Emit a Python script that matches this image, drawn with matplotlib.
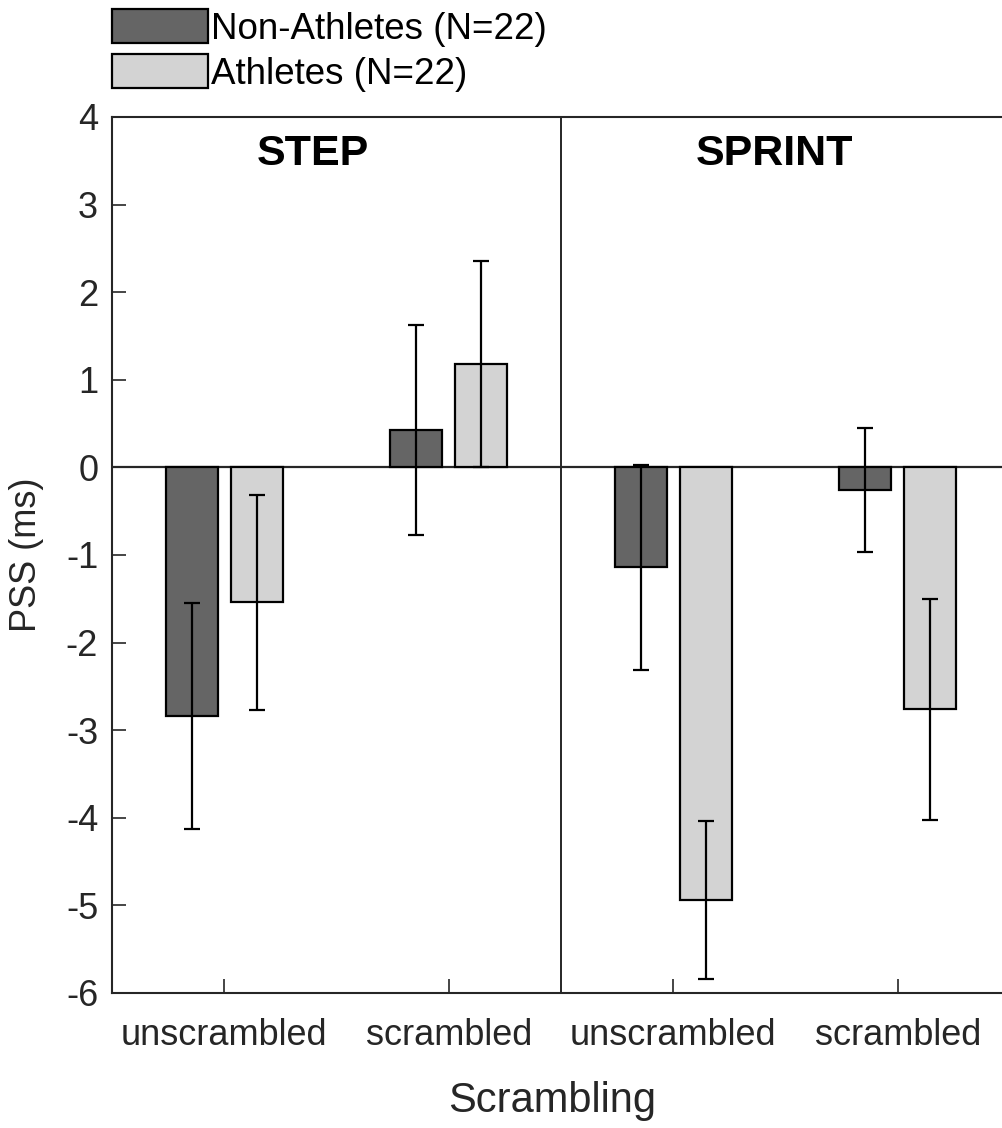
import matplotlib.pyplot as plt
import numpy as np

plt.rcParams['font.family'] = ['Liberation Sans', 'DejaVu Sans']
plt.rcParams['axes.unicode_minus'] = False

# data
conditions = ['unscrambled', 'scrambled', 'unscrambled', 'scrambled']
tasks = ['STEP', 'SPRINT']
non_athletes = [-2.84, 0.43, -1.14, -0.26]
non_athletes_err = [1.29, 1.20, 1.17, 0.71]
athletes = [-1.54, 1.18, -4.94, -2.76]
athletes_err = [1.23, 1.18, 0.90, 1.26]
group_labels = ['Non-Athletes (N=22)', 'Athletes (N=22)']

dark = '#656565'
light = '#d3d3d3'
spine_col = '#262626'

fig = plt.figure(figsize=(10.02, 11.28), dpi=100)
ax = fig.add_axes([0.1118, 0.1197, 0.8962, 0.7766])

x = np.arange(1, len(conditions) + 1)
w = 0.232
off = 0.144

b1 = ax.bar(x - off, non_athletes, w, color=dark, edgecolor='black', linewidth=1.6,
            label=group_labels[0], zorder=2)
b2 = ax.bar(x + off, athletes, w, color=light, edgecolor='black', linewidth=1.6,
            label=group_labels[1], zorder=2)
ax.errorbar(x - off, non_athletes, yerr=non_athletes_err, fmt='none', ecolor='black',
            elinewidth=1.6, capsize=6, capthick=1.6, zorder=3)
ax.errorbar(x + off, athletes, yerr=athletes_err, fmt='none', ecolor='black',
            elinewidth=1.6, capsize=6, capthick=1.6, zorder=3)

# zero line and task divider
ax.axhline(0, color=spine_col, linewidth=1.6, zorder=1)
ax.axvline(2.5, color=spine_col, linewidth=1.4, zorder=1)

ax.set_xlim(0.5, 4.5)
ax.set_ylim(-6, 4)
ax.set_xticks(x)
ax.set_xticklabels(conditions)
ax.set_yticks(np.arange(-6, 5, 1))
ax.tick_params(direction='in', length=10, width=1.2, labelsize=26, colors=spine_col,
               pad=10)
ax.tick_params(axis='x', pad=18)
for s in ax.spines.values():
    s.set_color(spine_col)
    s.set_linewidth(1.5)
ax.spines['right'].set_visible(False)

ax.set_ylabel('PSS (ms)', fontsize=26, color=spine_col, labelpad=16)
ax.set_xlabel('Scrambling', fontsize=30, color=spine_col)
ax.xaxis.set_label_coords(0.49, -0.1)

ax.text(1.395, 3.58, tasks[0], fontsize=31, fontweight='bold', ha='center', va='center')
ax.text(3.45, 3.58, tasks[1], fontsize=31, fontweight='bold', ha='center', va='center')

fig.legend(handles=[b1, b2], loc='upper left', bbox_to_anchor=(0.097, 1.005),
           frameon=False, fontsize=26.5, handlelength=2.6, handleheight=1.05,
           handletextpad=0.08, labelspacing=0.2, borderaxespad=0)

fig.savefig('out.png', dpi=100)
